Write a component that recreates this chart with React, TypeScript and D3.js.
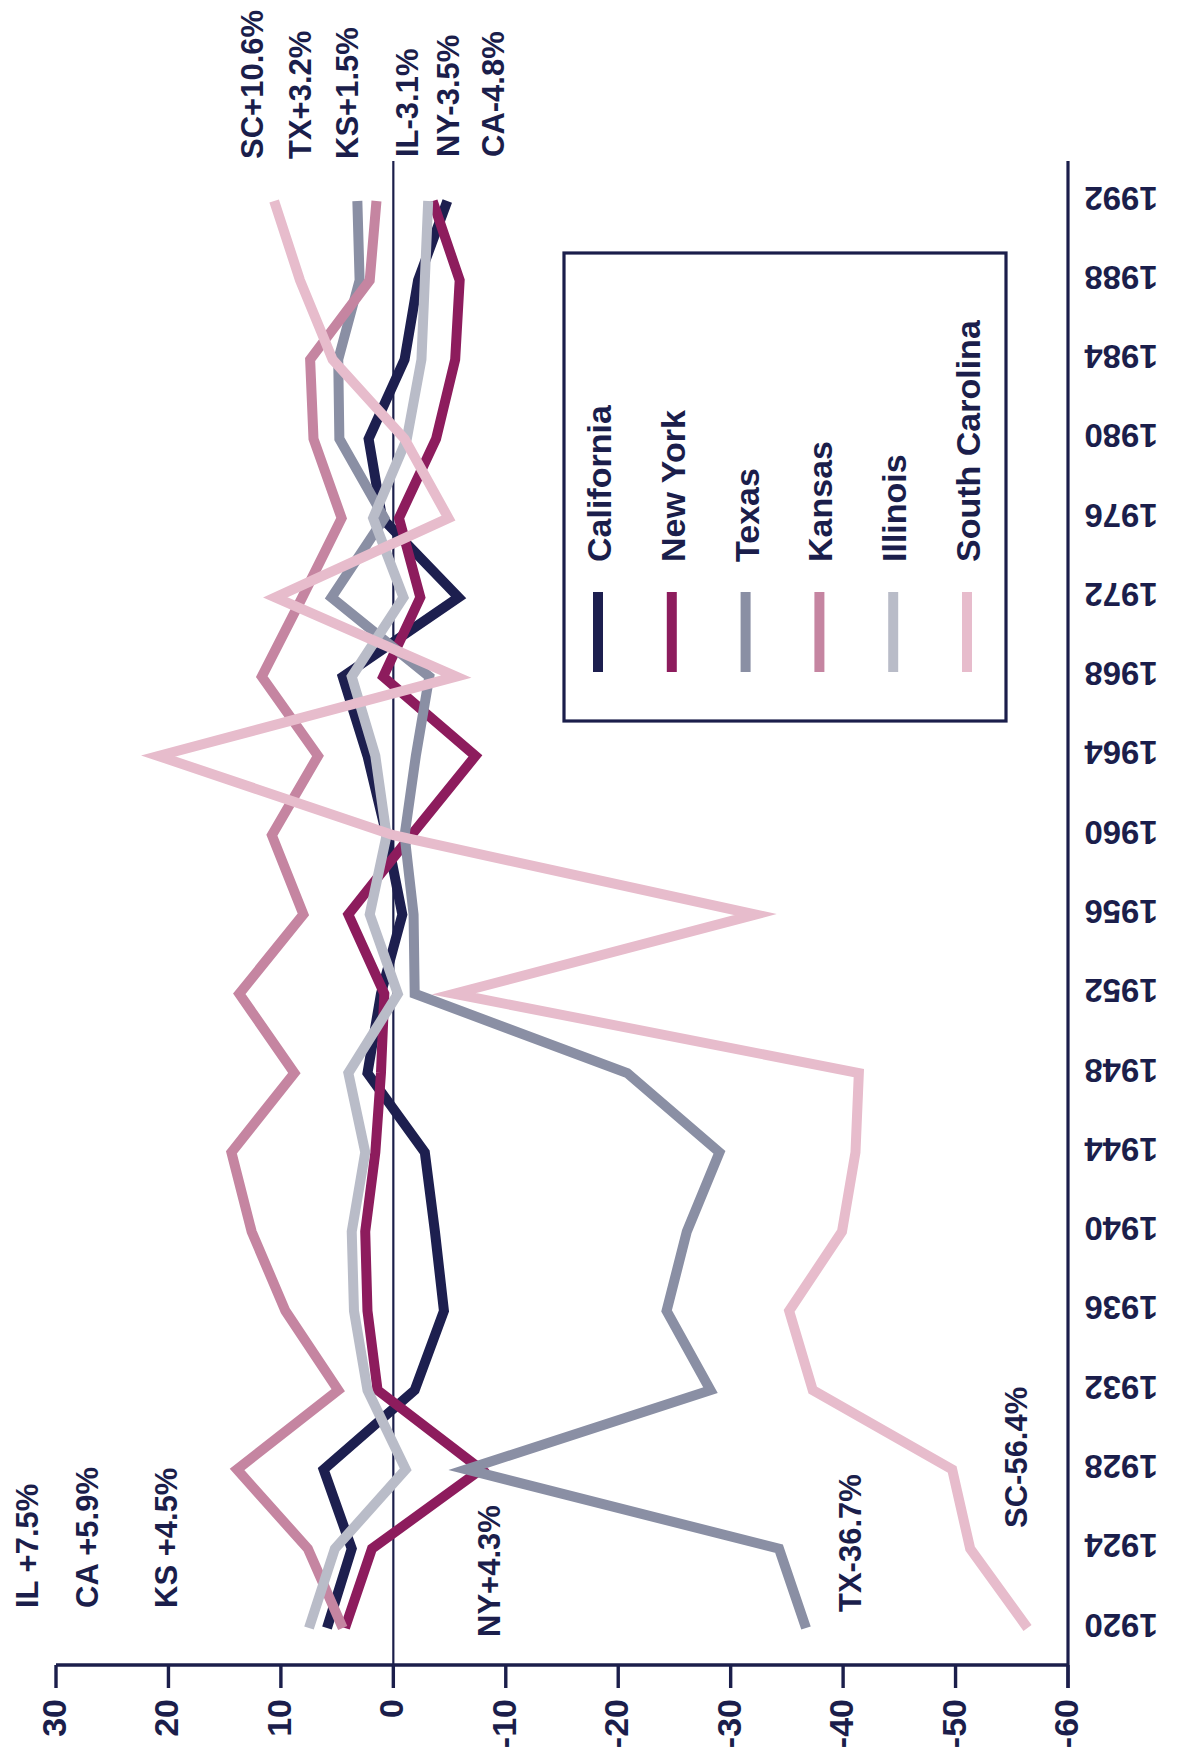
import { useEffect, useRef } from "react";
import * as d3 from "d3";

// election years on the (vertical) time axis
const years = [1920, 1924, 1928, 1932, 1936, 1940, 1944, 1948, 1952, 1956, 1960, 1964, 1968, 1972, 1976, 1980, 1984, 1988, 1992];
const valueTicks = [30, 20, 10, 0, -10, -20, -30, -40, -50, -60];

const california = [5.9, 3.7, 6.2, -1.9, -4.5, -3.7, -2.8, 2.3, 1.1, -0.8, 0.6, 2.3, 4.5, -5.8, 1.0, 2.2, -1.0, -2.2, -4.8];
const newYork = [4.3, 1.9, -7.8, 1.4, 2.3, 2.5, 1.6, 1.1, 0.8, 4.0, -1.6, -7.3, 0.9, -2.4, -0.5, -3.8, -5.5, -5.9, -3.5];
const texas = [-36.7, -34.3, -6.5, -28.2, -24.3, -26.1, -29.0, -20.8, -1.9, -1.8, -1.0, -2.0, -3.2, 5.5, 0.8, 4.8, 4.9, 3.0, 3.2];
const kansas = [4.5, 7.6, 13.9, 4.9, 9.6, 12.6, 14.4, 8.8, 13.7, 8.0, 10.8, 6.7, 11.7, 8.1, 4.6, 7.1, 7.4, 2.1, 1.5];
const illinois = [7.5, 5.2, -1.1, 2.3, 3.5, 3.7, 2.5, 4.0, -0.4, 2.1, 0.6, 1.6, 3.7, -0.9, 1.8, -1.2, -2.5, -2.8, -3.1];
const southCarolina = [-56.4, -51.3, -49.7, -37.3, -35.2, -39.9, -41.1, -41.4, -5.4, -32.2, 0.0, 20.9, -5.6, 10.5, -4.9, -1.0, 5.4, 8.3, 10.6];

const seriesNames = ["California", "New York", "Texas", "Kansas", "Illinois", "South Carolina"];
const seriesValues = [california, newYork, texas, kansas, illinois, southCarolina];
const seriesColors = ["#1d1f4f", "#8d1c5d", "#8a8fa4", "#c585a1", "#b9bcc8", "#e7bccc"];

// end-value annotations
const topNotes = ["SC+10.6%", "TX+3.2%", "KS+1.5%", "IL-3.1%", "NY-3.5%", "CA-4.8%"];
const bottomNotes = ["IL +7.5%", "CA +5.9%", "KS +4.5%", "NY+4.3%", "TX-36.7%", "SC-56.4%"];

// layout for the annotations (baseline x, start y)
const topNotePos = [[263, 159], [311, 159], [358, 159], [418, 157], [459, 157], [504, 157]];
const bottomNotePos = [[38, 1608], [98, 1608], [177, 1608], [500, 1637], [861, 1612], [1027, 1528]];

const INK = "#1b1e4b";
const FONT = "'Liberation Sans', Arial, Helvetica, sans-serif";

export default function App() {
  const svgRef = useRef<SVGSVGElement>(null);

  useEffect(() => {
    if (!svgRef.current) return;
    const width = 1180;
    const height = 1752;

    const svg = d3.select(svgRef.current);
    svg.selectAll("*").remove();
    svg.attr("viewBox", `0 0 ${width} ${height}`);

    svg.append("rect").attr("width", width).attr("height", height).attr("fill", "#ffffff");

    const x = d3.scaleLinear().domain([30, -60]).range([56, 1068]);
    const y = d3.scaleLinear().domain([1920, 1992]).range([1628, 201]);
    const axisY = 1665;
    const axisTop = 161;

    // value axis (bottom)
    svg.append("line")
      .attr("x1", x(30)).attr("x2", x(-60))
      .attr("y1", axisY).attr("y2", axisY)
      .attr("stroke", INK).attr("stroke-width", 3.4);

    svg.selectAll("line.tick")
      .data(valueTicks)
      .enter()
      .append("line")
      .attr("class", "tick")
      .attr("x1", (d) => x(d)).attr("x2", (d) => x(d))
      .attr("y1", axisY).attr("y2", axisY + 23)
      .attr("stroke", INK).attr("stroke-width", 3.4);

    svg.selectAll("text.vtick")
      .data(valueTicks)
      .enter()
      .append("text")
      .attr("class", "vtick")
      .attr("transform", (d) => `translate(${x(d) + 10},${axisY + 34}) rotate(-90)`)
      .attr("text-anchor", "end")
      .attr("font-family", FONT)
      .attr("font-weight", "bold")
      .attr("font-size", 34)
      .attr("fill", INK)
      .text((d) => String(d));

    // year axis (right)
    svg.append("line")
      .attr("x1", x(-60)).attr("x2", x(-60))
      .attr("y1", axisTop).attr("y2", axisY + 23)
      .attr("stroke", INK).attr("stroke-width", 3.2);

    svg.selectAll("text.year")
      .data(years)
      .enter()
      .append("text")
      .attr("class", "year")
      .attr("transform", (d) => `translate(1121,${y(d) - 3}) rotate(180)`)
      .attr("y", 11.5)
      .attr("text-anchor", "middle")
      .attr("font-family", FONT)
      .attr("font-weight", "bold")
      .attr("font-size", 33)
      .attr("fill", INK)
      .text((d) => String(d));

    // zero line
    svg.append("line")
      .attr("x1", x(0)).attr("x2", x(0))
      .attr("y1", axisTop).attr("y2", axisY)
      .attr("stroke", INK).attr("stroke-width", 2.2);

    // series lines
    const line = d3.line<number>()
      .x((d) => x(d))
      .y((_, i) => y(years[i]));

    svg.selectAll("path.series")
      .data(seriesValues)
      .enter()
      .append("path")
      .attr("class", "series")
      .attr("d", (d) => line(d))
      .attr("fill", "none")
      .attr("stroke", (_, i) => seriesColors[i])
      .attr("stroke-width", 10)
      .attr("stroke-linejoin", "miter")
      .attr("stroke-miterlimit", 10)
      .attr("stroke-linecap", "butt");

    // annotations
    const notes = [
      ...topNotes.map((t, i) => ({ t, p: topNotePos[i] })),
      ...bottomNotes.map((t, i) => ({ t, p: bottomNotePos[i] })),
    ];
    svg.selectAll("text.note")
      .data(notes)
      .enter()
      .append("text")
      .attr("class", "note")
      .attr("transform", (d) => `translate(${d.p[0]},${d.p[1]}) rotate(-90)`)
      .attr("text-anchor", "start")
      .attr("font-family", FONT)
      .attr("font-weight", "bold")
      .attr("font-size", 31)
      .attr("fill", INK)
      .text((d) => d.t);

    // legend
    const legend = svg.append("g");
    legend.append("rect")
      .attr("x", 564).attr("y", 253)
      .attr("width", 442).attr("height", 468)
      .attr("fill", "none")
      .attr("stroke", INK).attr("stroke-width", 3.2);

    const entry = legend.selectAll("g.entry")
      .data(seriesNames)
      .enter()
      .append("g")
      .attr("class", "entry")
      .attr("transform", (_, i) => `translate(${598 + i * 73.8},0)`);

    entry.append("line")
      .attr("x1", 0).attr("x2", 0)
      .attr("y1", 592).attr("y2", 672)
      .attr("stroke", (_, i) => seriesColors[i])
      .attr("stroke-width", 10);

    entry.append("text")
      .attr("transform", "translate(13,562) rotate(-90)")
      .attr("text-anchor", "start")
      .attr("font-family", FONT)
      .attr("font-weight", "bold")
      .attr("font-size", 34)
      .attr("fill", INK)
      .text((d) => d);
  }, []);

  return (
    <svg
      ref={svgRef}
      width={1180}
      height={1752}
      style={{ position: "absolute", left: 0, top: 0, display: "block" }}
    />
  );
}
